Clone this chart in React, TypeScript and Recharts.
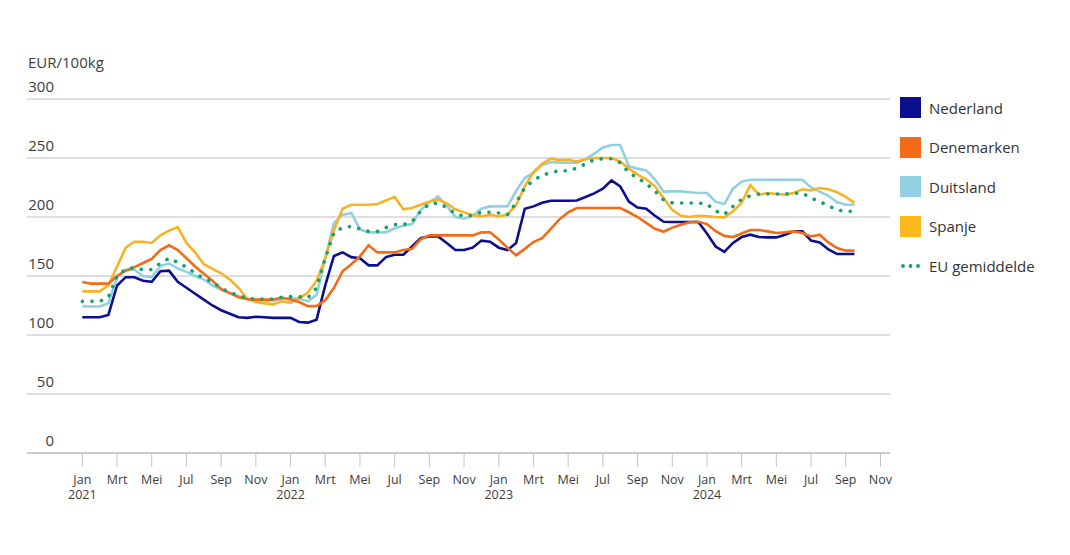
import React from "react";
import { LineChart, Line, XAxis, YAxis, CartesianGrid } from "recharts";

// half-month steps starting Jan 2021 (0 = 1 Jan 2021)
const nederland = [
  115, 115, 115, 117, 142, 149, 149, 146, 145, 154, 154.5, 145, 140, 135, 130, 125, 121, 118, 115, 114.5,
  115.5, 115, 114.5, 114.5, 114.5, 111, 110.5, 113, 142, 167, 170, 166, 165, 159, 159, 166, 168, 168, 175, 182,
  183.6, 183.6, 178, 172, 172, 174, 180, 179, 174, 172, 178, 207, 209, 212, 213.8, 213.8, 213.8, 214, 217, 220,
  224, 231, 226, 213, 208, 207, 201, 196, 195.8, 195.8, 195.8, 195.8, 186, 175, 170.5, 178, 183, 185, 183, 182.7,
  182.7, 185, 187.9, 187.9, 180, 178.5, 172.5, 168.6, 168.6, 168.6,
];
const denemarken = [
  145, 143.5, 143.5, 143.5, 150, 154.5, 157.5, 161, 164.5, 172, 176, 172, 165, 158, 152, 146, 139, 135.5, 132, 130.5,
  130, 130, 130, 131.5, 130, 128, 124.5, 124.5, 129.5, 140, 154, 160, 166.6, 176, 170, 170, 170, 172, 173, 181,
  184.4, 184.4, 184.4, 184.4, 184.4, 184.4, 187, 187, 181, 174, 167.5, 173, 178.8, 182, 190, 198, 204, 207.6, 207.6, 207.6,
  207.6, 207.6, 207.6, 204, 200, 195, 190, 187.5, 191, 193.5, 195.5, 196, 194, 188, 184, 183, 186, 189, 189, 187.8,
  186.5, 187, 187.8, 186.5, 183.5, 185, 178.5, 173.7, 171.5, 171.5,
];
const duitsland = [
  124.5, 124.2, 124.2, 127, 149, 155.3, 155.5, 149.7, 149, 158.5, 160.5, 156.5, 153.5, 150, 147, 142, 138, 135.6, 133, 130.5,
  129.3, 129.3, 129.3, 130.5, 131.3, 131, 128.5, 134, 165, 195, 202, 203.4, 189.5, 187, 187, 187, 190.5, 192.5, 194, 206,
  212.5, 217.5, 209.5, 200, 198.5, 201, 207, 209, 209, 209, 222, 233, 237.3, 244, 246.5, 246, 246, 246, 249, 253.5,
  259, 261, 261, 243, 241, 239.5, 232, 221.5, 221.7, 221.7, 221, 220.3, 220.3, 213, 211, 224, 230, 231.6, 231.6, 231.6,
  231.6, 231.6, 231.6, 231.6, 225, 221.5, 218, 212.5, 210.4, 210.4,
];
const spanje = [
  137, 137, 137, 142, 158, 174, 179, 179, 178, 184.5, 188.5, 191.5, 178, 170, 160, 156, 152.3, 147, 140, 130.5,
  128, 126.8, 126, 128.5, 127.5, 131, 136, 146, 165, 189, 207, 210.4, 210.4, 210.4, 211, 214, 217, 206.5, 207.6, 210.4,
  213, 214.7, 211.5, 206.5, 204, 201.5, 200.5, 202, 200.5, 202, 210, 226, 238, 245, 249.5, 248, 248.5, 247, 249, 250,
  250, 250, 247, 241, 236, 232, 226, 216, 206, 201, 200, 201, 200.5, 200, 199.7, 204.8, 212, 227, 219, 220.3,
  219.5, 219, 220.3, 223.5, 222.5, 224.5, 223.5, 221, 217, 212,
];
const euGemiddelde = [
  128.5, 128.5, 128.5, 132, 150, 156, 157, 155.3, 155.5, 161, 165, 161.5, 157.5, 152.5, 148, 145, 139.5, 136.1, 133.5, 131,
  130.5, 130.5, 130.5, 132, 132.5, 132.5, 131.5, 140, 165, 187, 191, 192, 190, 187.8, 187.8, 191, 193.5, 193.5, 196, 205,
  211, 211.9, 208, 203, 200.5, 201.5, 204, 204, 203.4, 202, 212, 225, 231, 235.5, 237.5, 239.5, 239, 241.5, 245, 248.5,
  249.4, 249.4, 246, 237.5, 233, 228.5, 222, 214.5, 212, 211.9, 211.9, 211.9, 211, 205, 202.2, 209, 215, 218, 219.5, 219.5,
  219.5, 219.5, 220, 220.3, 216, 213, 209.5, 206, 204.8, 204.8,
];

const monthLabels = ["Jan", "Mrt", "Mei", "Jul", "Sep", "Nov"];
const yearLabels = ["2021", "2022", "2023", "2024"];
const xTicks = [0, 2, 4, 6, 8, 10, 12, 14, 16, 18, 20, 22, 24, 26, 28, 30, 32, 34, 36, 38, 40, 42, 44, 46];
const yTicks = [0, 50, 100, 150, 200, 250, 300];

const seriesInfo = [
  { key: "nl", name: "Nederland", color: "#0b0f8f" },
  { key: "dk", name: "Denemarken", color: "#f46b17" },
  { key: "de", name: "Duitsland", color: "#92cfe0" },
  { key: "es", name: "Spanje", color: "#fbb91c" },
  { key: "eu", name: "EU gemiddelde", color: "#16a06c" },
];

const data = nederland.map((v, i) => ({
  m: i / 2,
  nl: v,
  dk: denemarken[i],
  de: duitsland[i],
  es: spanje[i],
  eu: euGemiddelde[i],
}));

const FONT = "'Open Sans', 'Noto Sans', sans-serif";
const TEXT = "#3d3d3d";

const XTick = (props: any) => {
  const { x, y, payload } = props;
  const v = payload.value as number;
  const month = monthLabels[(v / 2) % 6];
  const year = v % 12 === 0 ? yearLabels[v / 12] : null;
  return (
    <g>
      <text x={x} y={y + 15} textAnchor="middle" fill={TEXT} fontSize={12.5} fontFamily={FONT}>
        {month}
      </text>
      {year && (
        <text x={x} y={y + 30} textAnchor="middle" fill={TEXT} fontSize={12.5} fontFamily={FONT}>
          {year}
        </text>
      )}
    </g>
  );
};

const YTick = (props: any) => {
  const { y, payload } = props;
  return (
    <text x={54} y={y - 7} textAnchor="end" fill={TEXT} fontSize={15} fontFamily={FONT}>
      {payload.value}
    </text>
  );
};

const LegendBox = () => (
  <div style={{ position: "absolute", left: 900, top: 97, fontFamily: FONT, fontSize: 15, color: "#333" }}>
    {seriesInfo.map((s) => (
      <div key={s.key} style={{ display: "flex", alignItems: "center", height: 21, marginBottom: 18.5 }}>
        {s.key === "eu" ? (
          <svg width={21} height={21} style={{ marginRight: 8 }}>
            {[3, 10.5, 18].map((cx) => (
              <circle key={cx} cx={cx} cy={11} r={1.9} fill={s.color} />
            ))}
          </svg>
        ) : (
          <div style={{ width: 21, height: 21, background: s.color, marginRight: 8 }} />
        )}
        <span>{s.name}</span>
      </div>
    ))}
  </div>
);

export default function App() {
  return (
    <div style={{ position: "absolute", left: 0, top: 0, width: 1070, height: 555, background: "#fff" }}>
      <div
        style={{
          position: "absolute",
          left: 28,
          top: 52,
          fontFamily: FONT,
          fontSize: 15,
          color: TEXT,
        }}
      >
        EUR/100kg
      </div>
      <LineChart
        width={1070}
        height={555}
        data={data}
        margin={{ top: 99, right: 180, bottom: 52, left: 0 }}
      >
        <CartesianGrid horizontal vertical={false} stroke="#bdbdbd" strokeWidth={1} />
        <XAxis
          dataKey="m"
          type="number"
          domain={[-3.19, 46.55]}
          ticks={xTicks}
          interval={0}
          height={50}
          axisLine={{ stroke: "#b5b5b5" }}
          tickLine={{ stroke: "#c4c4c4" }}
          tickSize={14}
          tick={(p: any) => <XTick {...p} />}
          allowDataOverflow
        />
        <YAxis
          width={27}
          type="number"
          domain={[0, 300]}
          ticks={yTicks}
          interval={0}
          axisLine={false}
          tickLine={false}
          tick={(p: any) => <YTick {...p} />}
        />
        <Line dataKey="nl" stroke="#0b0f8f" strokeWidth={2.6} dot={false} isAnimationActive={false} />
        <Line dataKey="de" stroke="#92cfe0" strokeWidth={2.6} dot={false} isAnimationActive={false} />
        <Line dataKey="es" stroke="#f7b325" strokeWidth={2.6} dot={false} isAnimationActive={false} />
        <Line dataKey="dk" stroke="#f46b17" strokeWidth={2.6} dot={false} isAnimationActive={false} />
        <Line
          dataKey="eu"
          stroke="#16a06c"
          strokeWidth={3.6}
          strokeDasharray="0.1 9.5"
          strokeLinecap="round"
          dot={false}
          isAnimationActive={false}
        />
      </LineChart>
      <LegendBox />
    </div>
  );
}
